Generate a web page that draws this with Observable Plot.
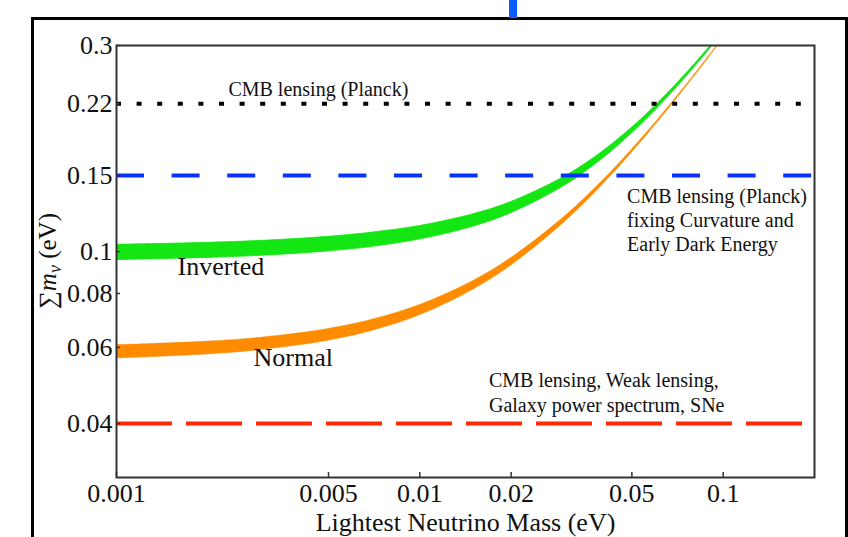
<!DOCTYPE html>
<html><head><meta charset="utf-8">
<script src="https://cdn.jsdelivr.net/npm/d3@7"></script>
<script src="https://cdn.jsdelivr.net/npm/@observablehq/plot@0.6"></script>
<style>
body{margin:0;background:#fff;}
#wrap{position:relative;width:848px;height:537px;overflow:hidden;background:#fff;}
#outer{position:absolute;left:31px;top:17px;width:811px;height:540px;border:3px solid #000;border-bottom:none;pointer-events:none;}
#bar{position:absolute;left:509px;top:0;width:8px;height:18px;background:#0a5cff;}
</style></head><body><div id="wrap"><div id="chart"></div><div id="outer"></div><div id="bar"></div></div>
<script>
// Lightest neutrino mass (eV) sample points
const massX = [0.001, 0.002, 0.003, 0.005, 0.007, 0.01, 0.015, 0.02, 0.03, 0.04, 0.05, 0.06, 0.07, 0.08, 0.09, 0.1];
// Sum of neutrino masses (eV), band edges
const normalLow    = [0.0566, 0.0578, 0.0592, 0.0622, 0.0656, 0.0712, 0.0816, 0.0928, 0.1169, 0.1426, 0.1693, 0.1968, 0.2248, 0.2532, 0.2819, 0.3108];
const normalHigh   = [0.0607, 0.0619, 0.0632, 0.0662, 0.0696, 0.0752, 0.0855, 0.0966, 0.1204, 0.1457, 0.1722, 0.1994, 0.2271, 0.2553, 0.2839, 0.3126];
const invertedLow  = [0.0956, 0.0967, 0.0978, 0.1001, 0.1026, 0.1067, 0.1142, 0.1227, 0.1420, 0.1639, 0.1877, 0.2128, 0.2390, 0.2659, 0.2934, 0.3213];
const invertedHigh = [0.1037, 0.1048, 0.1059, 0.1082, 0.1107, 0.1146, 0.1220, 0.1302, 0.1490, 0.1702, 0.1934, 0.2180, 0.2436, 0.2701, 0.2972, 0.3248];

// Upper limits (eV)
const limitPlanck = [0.22];
const limitPlanckCurvEDE = [0.15];
const limitCombined = [0.04];

// Ticks
const xTicks = [0.001, 0.005, 0.01, 0.02, 0.05, 0.1];
const xTickLabels = ["0.001", "0.005", "0.01", "0.02", "0.05", "0.1"];
const yTicks = [0.04, 0.06, 0.08, 0.1, 0.15, 0.22, 0.3];
const yTickLabels = ["0.04", "0.06", "0.08", "0.1", "0.15", "0.22", "0.3"];

// Text
const annPlanck = ["CMB lensing (Planck)"];
const annCurvEDE = ["CMB lensing (Planck)\nfixing Curvature and\nEarly Dark Energy"];
const annCombined = ["CMB lensing, Weak lensing,\nGalaxy power spectrum, SNe"];
const labelInverted = ["Inverted"];
const labelNormal = ["Normal"];
const xLabel = "Lightest Neutrino Mass (eV)";

const normalBand = massX.map((m, i) => ({m, lo: normalLow[i], hi: normalHigh[i]}));
const invertedBand = massX.map((m, i) => ({m, lo: invertedLow[i], hi: invertedHigh[i]}));

const GREEN = "#14e614", ORANGE = "#ff8c00";
const serif = "'Liberation Serif', 'Times New Roman', serif";

const plot = Plot.plot({
  width: 848, height: 537,
  marginLeft: 116, marginRight: 34, marginTop: 45, marginBottom: 60,
  style: {fontFamily: serif, background: "transparent", color: "#111"},
  x: {type: "log", domain: [0.001, 0.2]},
  y: {type: "log", domain: [0.03, 0.3]},
  marks: [
    Plot.areaY(invertedBand, {x: "m", y1: "lo", y2: "hi", fill: GREEN, stroke: GREEN, strokeWidth: 0.8, curve: "catmull-rom", clip: true}),
    Plot.areaY(normalBand, {x: "m", y1: "lo", y2: "hi", fill: ORANGE, stroke: ORANGE, strokeWidth: 0.5, curve: "catmull-rom", clip: true}),
    Plot.ruleY(limitPlanck, {stroke: "#000", strokeWidth: 4, strokeDasharray: "5,15.6"}),
    Plot.ruleY(limitPlanckCurvEDE, {stroke: "#0a32ff", strokeWidth: 4, strokeDasharray: "28,27.6"}),
    Plot.ruleY(limitCombined, {stroke: "#ff2a00", strokeWidth: 4, strokeDasharray: "56,14"}),
    Plot.frame({stroke: "#333", strokeWidth: 2}),
    Plot.tickX(xTicks, {x: d => d, insetTop: 427, stroke: "#333", strokeWidth: 1.5}),
    Plot.tickY(yTicks, {y: d => d, insetRight: 694, stroke: "#333", strokeWidth: 1.5}),
    Plot.axisX({ticks: xTicks, tickFormat: d => xTickLabels[xTicks.indexOf(d)], tickSize: 0, tickPadding: 6, fontSize: 26,
      label: xLabel, labelAnchor: "center", labelOffset: 53, labelArrow: "none"}),
    Plot.axisY({ticks: yTicks, tickFormat: d => yTickLabels[yTicks.indexOf(d)], tickSize: 0, tickPadding: 4, fontSize: 26, label: null}),
    Plot.text(annPlanck, {x: 0.00463, y: limitPlanck[0], dy: -14, text: d => d, fontSize: 20, fill: "#111"}),
    Plot.text(annCurvEDE, {x: 0.0482, y: limitPlanckCurvEDE[0], dy: 44, text: d => d, fontSize: 20, textAnchor: "start", lineHeight: 1.2, fill: "#111"}),
    Plot.text(annCombined, {x: 0.0169, y: limitCombined[0], dy: -32, text: d => d, fontSize: 20, textAnchor: "start", lineHeight: 1.25, fill: "#111"}),
    Plot.text(labelInverted, {x: 0.00159, y: 0.1, dy: 15, text: d => d, fontSize: 26, textAnchor: "start", fill: "#111"}),
    Plot.text(labelNormal, {x: 0.00283, y: 0.06, dy: 10, text: d => d, fontSize: 26, textAnchor: "start", fill: "#111"})
  ]
});

// y-axis label with math styling
const svg = d3.select(plot);
const t = svg.append("text")
  .attr("transform", "translate(56,261) rotate(-90)")
  .attr("text-anchor", "middle")
  .attr("font-family", serif)
  .attr("font-size", 25)
  .attr("fill", "#111");
t.append("tspan").text("∑");
t.append("tspan").attr("font-style", "italic").text("m");
t.append("tspan").attr("font-style", "italic").attr("font-size", 18).attr("dy", 5).text("v");
t.append("tspan").attr("dy", -5).text(" (eV)");

document.getElementById("chart").appendChild(plot);
</script>
</body></html>
